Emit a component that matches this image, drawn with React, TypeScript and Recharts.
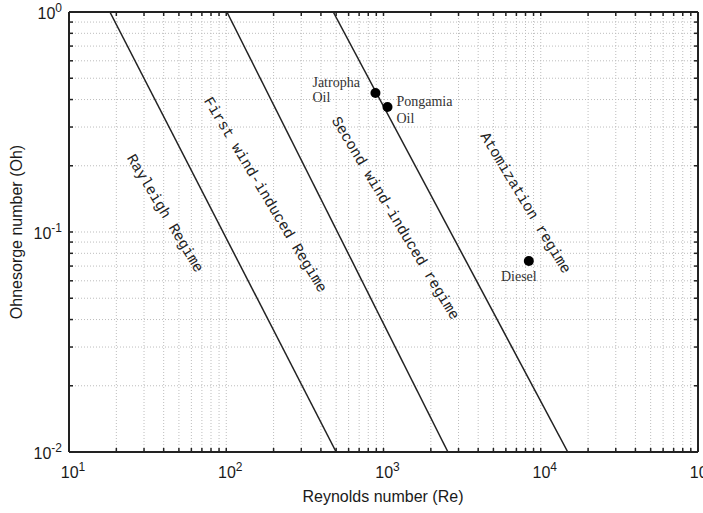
import {
  ComposedChart,
  Line,
  Scatter,
  XAxis,
  YAxis,
  CartesianGrid,
  ReferenceDot,
} from 'recharts';

// regime boundary lines (Re at Oh = 1 and Oh = 0.01)
const boundary1 = [
  { re: 18.2, oh: 1 },
  { re: 500, oh: 0.01 },
];
const boundary2 = [
  { re: 101, oh: 1 },
  { re: 2570, oh: 0.01 },
];
const boundary3 = [
  { re: 479, oh: 1 },
  { re: 14860, oh: 0.01 },
];

// fuels
const fuels = [
  { name: 'Jatropha', re: 889, oh: 0.428 },
  { name: 'Pongamia', re: 1060, oh: 0.37 },
  { name: 'Diesel', re: 8400, oh: 0.0738 },
];

// regime names
const regimes = [
  { text: 'Rayleigh Regime', re: 40.3, oh: 0.121 },
  { text: 'First wind-induced Regime', re: 175, oh: 0.147 },
  { text: 'Second wind-induced regime', re: 1175, oh: 0.115 },
  { text: 'Atomization regime', re: 7900, oh: 0.135 },
];

const xTicks = [
  10, 20, 30, 40, 50, 60, 70, 80, 90,
  100, 200, 300, 400, 500, 600, 700, 800, 900,
  1000, 2000, 3000, 4000, 5000, 6000, 7000, 8000, 9000,
  10000, 20000, 30000, 40000, 50000, 60000, 70000, 80000, 90000,
  100000,
];
const yTicks = [
  0.01, 0.02, 0.03, 0.04, 0.05, 0.06, 0.07, 0.08, 0.09,
  0.1, 0.2, 0.3, 0.4, 0.5, 0.6, 0.7, 0.8, 0.9,
  1,
];

const SANS = '"Liberation Sans", Arial, sans-serif';
const SERIF = '"Liberation Serif", "DejaVu Serif", serif';
const MONO = '"Liberation Mono", "Courier New", monospace';

const isDecade = (v: number) => {
  const e = Math.log10(v);
  return Math.abs(e - Math.round(e)) < 1e-6;
};

function Pow({ x, y, v, anchor }: { x: number; y: number; v: number; anchor: string }) {
  const e = Math.round(Math.log10(v));
  return (
    <text x={x} y={y} textAnchor={anchor} fontFamily={SANS} fontSize={16} fill="#1a1a1a">
      10
      <tspan dy={-7} fontSize={12}>{e}</tspan>
    </text>
  );
}

function BottomTick(props: any) {
  const { x, y, payload } = props;
  return (
    <g>
      <line x1={x} y1={y} x2={x} y2={y - 4} stroke="#222" strokeWidth={1.5} />
      {isDecade(payload.value) && <Pow x={x + 4} y={y + 26} v={payload.value} anchor="middle" />}
    </g>
  );
}

function TopTick(props: any) {
  const { x, y } = props;
  return <line x1={x} y1={y} x2={x} y2={y + 4} stroke="#222" strokeWidth={1.5} />;
}

function LeftTick(props: any) {
  const { x, y, payload } = props;
  return (
    <g>
      <line x1={x} y1={y} x2={x + 4} y2={y} stroke="#222" strokeWidth={1.5} />
      {isDecade(payload.value) && <Pow x={x - 7} y={y + 7} v={payload.value} anchor="end" />}
    </g>
  );
}

function RightTick(props: any) {
  const { x, y } = props;
  return <line x1={x} y1={y} x2={x - 4} y2={y} stroke="#222" strokeWidth={1.5} />;
}

// label placement around each fuel dot
const fuelLabels: Record<string, { lines: string[]; dx: number; dy: number[]; anchor: string }> = {
  Jatropha: { lines: ['Jatropha', 'Oil'], dx: -63, dy: [-6, 9], anchor: 'start' },
  Pongamia: { lines: ['Pongamia', 'Oil'], dx: 9, dy: [-1, 16], anchor: 'start' },
  Diesel: { lines: ['Diesel'], dx: -10, dy: [20], anchor: 'middle' },
};

function FuelDot(props: any) {
  const { cx, cy, payload } = props;
  const lab = fuelLabels[payload.name];
  return (
    <g>
      <circle cx={cx} cy={cy} r={5} fill="#000" />
      {lab.lines.map((t, i) => (
        <text
          key={t}
          x={cx + lab.dx}
          y={cy + lab.dy[i]}
          textAnchor={lab.anchor}
          fontFamily={SERIF}
          fontSize={14}
          fill="#333"
        >
          {t}
        </text>
      ))}
    </g>
  );
}

function RegimeText(text: string) {
  return (props: any) => {
    const { cx, cy } = props;
    return (
      <text
        x={cx}
        y={cy}
        textAnchor="middle"
        dominantBaseline="central"
        fontFamily={MONO}
        fontSize={15}
        fill="#222"
        transform={`rotate(59 ${cx} ${cy})`}
      >
        {text}
      </text>
    );
  };
}

export default function App() {
  return (
    <div style={{ position: 'absolute', left: 0, top: 0, background: '#fff' }}>
      <ComposedChart
        width={703}
        height={513}
        margin={{ top: 7, right: 0, bottom: 21, left: 29 }}
      >
        <CartesianGrid stroke="#bdbdbd" strokeDasharray="1 2" />
        <XAxis
          dataKey="re"
          type="number"
          scale="log"
          domain={[10, 100000]}
          ticks={xTicks}
          allowDataOverflow
          height={40}
          tickSize={0}
          tickMargin={0}
          tick={<BottomTick />}
          interval={0}
          axisLine={{ stroke: '#222', strokeWidth: 2 }}
          label={{
            content: () => (
              <text x={383} y={502} textAnchor="middle" fontFamily={SANS} fontSize={16} fill="#1a1a1a">
                Reynolds number (Re)
              </text>
            ),
          }}
        />
        <XAxis
          xAxisId="top"
          orientation="top"
          dataKey="re"
          type="number"
          scale="log"
          domain={[10, 100000]}
          ticks={xTicks}
          allowDataOverflow
          height={5}
          tickSize={0}
          tickMargin={0}
          tick={<TopTick />}
          interval={0}
          axisLine={{ stroke: '#222', strokeWidth: 2 }}
        />
        <YAxis
          dataKey="oh"
          type="number"
          scale="log"
          domain={[0.01, 1]}
          ticks={yTicks}
          allowDataOverflow
          width={40}
          tickSize={0}
          tickMargin={0}
          tick={<LeftTick />}
          interval={0}
          axisLine={{ stroke: '#222', strokeWidth: 2 }}
          label={{
            content: () => (
              <text
                x={22}
                y={232}
                textAnchor="middle"
                fontFamily={SANS}
                fontSize={16}
                fill="#1a1a1a"
                transform="rotate(-90 22 232)"
              >
                Ohnesorge number (Oh)
              </text>
            ),
          }}
        />
        <YAxis
          yAxisId="right"
          orientation="right"
          dataKey="oh"
          type="number"
          scale="log"
          domain={[0.01, 1]}
          ticks={yTicks}
          allowDataOverflow
          width={5}
          tickSize={0}
          tickMargin={0}
          tick={<RightTick />}
          interval={0}
          axisLine={{ stroke: '#222', strokeWidth: 2 }}
        />
        <Line data={boundary1} dataKey="oh" stroke="#222" strokeWidth={1.5} dot={false} isAnimationActive={false} />
        <Line data={boundary2} dataKey="oh" stroke="#222" strokeWidth={1.5} dot={false} isAnimationActive={false} />
        <Line data={boundary3} dataKey="oh" stroke="#222" strokeWidth={1.5} dot={false} isAnimationActive={false} />
        <Scatter data={fuels} dataKey="oh" shape={<FuelDot />} isAnimationActive={false} />
        {regimes.map(r => (
          <ReferenceDot key={r.text} x={r.re} y={r.oh} r={1} shape={RegimeText(r.text)} />
        ))}
      </ComposedChart>
    </div>
  );
}
